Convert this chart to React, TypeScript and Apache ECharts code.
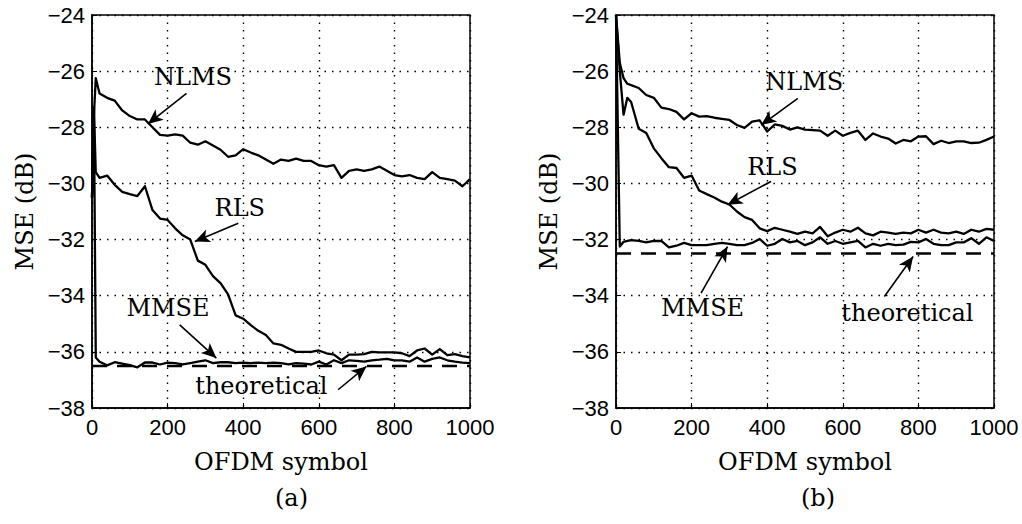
import React, { useEffect, useRef } from "react";
import * as echarts from "echarts";

// ---------- panel (a) ----------
const X_A = [0, 5, 10, 20, 40, 60, 80, 100, 120, 140, 160, 180, 200, 220, 240, 260, 280, 300, 320, 340, 360, 380, 400, 420, 440, 460, 480, 500, 520, 540, 560, 580, 600, 620, 640, 660, 680, 700, 720, 740, 760, 780, 800, 820, 840, 860, 880, 900, 920, 940, 960, 980, 1000];
const NLMS_A = [-30.5, -27.6, -26.25, -26.8, -26.95, -27.05, -27.4, -27.6, -27.72, -27.72, -28.0, -28.27, -28.3, -28.25, -28.3, -28.55, -28.62, -28.5, -28.65, -28.8, -29.05, -29.0, -28.78, -28.9, -29.0, -29.15, -29.3, -29.15, -29.2, -29.12, -29.2, -29.2, -29.35, -29.4, -29.35, -29.8, -29.55, -29.5, -29.55, -29.5, -29.4, -29.55, -29.7, -29.75, -29.7, -29.8, -29.85, -29.6, -29.8, -29.85, -29.9, -30.1, -29.85];
const RLS_A = [-30.5, -27.3, -29.6, -29.8, -29.72, -30.05, -30.3, -30.38, -30.45, -30.1, -30.95, -31.25, -31.3, -31.6, -31.85, -32.0, -32.75, -32.9, -33.3, -33.55, -33.95, -34.7, -34.82, -35.05, -35.25, -35.4, -35.7, -35.75, -35.88, -36.0, -36.0, -36.0, -35.95, -36.05, -36.1, -36.3, -36.1, -36.1, -36.08, -36.0, -36.02, -36.02, -36.02, -36.05, -36.15, -35.95, -35.88, -36.1, -35.9, -36.12, -36.08, -36.15, -36.2];
const MMSE_A = [-30.5, -27.3, -36.2, -36.35, -36.48, -36.37, -36.42, -36.47, -36.55, -36.38, -36.38, -36.45, -36.38, -36.4, -36.45, -36.4, -36.35, -36.3, -36.4, -36.37, -36.37, -36.4, -36.38, -36.4, -36.38, -36.4, -36.38, -36.4, -36.45, -36.4, -36.42, -36.45, -36.35, -36.45, -36.3, -36.4, -36.3, -36.32, -36.35, -36.3, -36.28, -36.25, -36.3, -36.3, -36.35, -36.2, -36.35, -36.25, -36.2, -36.3, -36.35, -36.38, -36.4];
const THEO_X = [0, 1000];
const THEO_A = [-36.5, -36.5];

// ---------- panel (b) ----------
const X_B = [0, 10, 20, 30, 40, 60, 80, 100, 120, 140, 160, 180, 200, 220, 240, 260, 280, 300, 320, 340, 360, 380, 400, 420, 440, 460, 480, 500, 520, 540, 560, 580, 600, 620, 640, 660, 680, 700, 720, 740, 760, 780, 800, 820, 840, 860, 880, 900, 920, 940, 960, 980, 1000];
const NLMS_B = [-24.0, -25.7, -26.25, -26.45, -26.5, -26.6, -26.85, -26.95, -27.3, -27.35, -27.45, -27.72, -27.5, -27.62, -27.6, -27.66, -27.7, -27.74, -27.92, -28.02, -27.8, -27.75, -28.15, -27.9, -27.95, -28.08, -28.0, -28.08, -28.1, -28.12, -28.3, -28.12, -28.3, -28.2, -28.12, -28.45, -28.22, -28.33, -28.4, -28.58, -28.45, -28.5, -28.33, -28.32, -28.6, -28.48, -28.56, -28.5, -28.5, -28.56, -28.55, -28.45, -28.33];
const RLS_B = [-24.0, -26.0, -27.55, -26.95, -27.1, -28.05, -28.2, -28.75, -29.1, -29.42, -29.45, -29.8, -29.72, -30.25, -30.38, -30.5, -30.65, -30.75, -31.0, -31.2, -31.3, -31.6, -31.7, -31.58, -31.65, -31.72, -31.8, -31.72, -31.78, -31.55, -31.88, -31.75, -31.65, -31.72, -31.58, -31.78, -31.85, -31.72, -31.75, -31.8, -31.75, -31.78, -31.65, -31.75, -31.65, -31.75, -31.78, -31.72, -31.8, -31.65, -31.72, -31.62, -31.65];
const MMSE_B = [-24.0, -32.25, -32.08, -32.05, -32.02, -32.05, -32.1, -32.05, -32.05, -32.28, -32.22, -32.12, -32.2, -32.2, -32.2, -32.15, -32.12, -32.15, -32.2, -32.2, -32.12, -31.98, -32.22, -32.15, -31.98, -32.1, -32.05, -32.2, -32.1, -31.92, -32.15, -32.05, -32.15, -32.1, -32.05, -32.28, -32.15, -32.22, -32.15, -32.2, -32.18, -32.08, -32.1, -31.98, -32.15, -32.2, -32.2, -32.1, -32.1, -31.95, -32.15, -31.92, -32.05];
const THEO_B = [-32.5, -32.5];

// ---------- annotations ----------
const ANN_TEXT = ["NLMS", "RLS", "MMSE", "theoretical"];
const ANN_A_POS = [[267, -26.2], [391, -30.88], [201, -34.44], [448, -37.23]];
const ARROW_A = [
  [[250, -26.79], [148, -27.88]],
  [[387, -31.42], [272, -32.07]],
  [[232, -35.04], [329, -36.22]],
  [[651, -37.35], [726, -36.52]],
];
const ANN_B_POS = [[498, -26.37], [414, -29.4], [229, -34.44], [771, -34.62]];
const ARROW_B = [
  [[481, -26.97], [384, -27.92]],
  [[410, -29.93], [295, -30.76]],
  [[225, -33.91], [295, -32.25]],
  [[710, -34.03], [786, -32.6]],
];

const X_MIN = 0, X_MAX = 1000, X_STEP = 200;
const Y_MIN = -38, Y_MAX = -24, Y_STEP = 2;
const PANEL_TAGS = ["(a)", "(b)"];

const SERIF = "DejaVu Serif";
const SANS = "Liberation Sans";

const zip = (xs: number[], ys: number[]) => xs.map((x, i) => [x, ys[i]]);

export default function App() {
  const ref = useRef<HTMLDivElement>(null);
  useEffect(() => {
    if (!ref.current) return;
    const chart = echarts.init(ref.current, undefined, { renderer: "svg" });

    const grids = [
      { left: 92, top: 15, width: 378, height: 393 },
      { left: 616, top: 15, width: 378, height: 393 },
    ];

    const xAxis = grids.map((_, i) => ({
      type: "value",
      gridIndex: i,
      min: X_MIN,
      max: X_MAX,
      interval: X_STEP,
      name: "OFDM symbol",
      nameLocation: "middle",
      nameGap: 42,
      nameTextStyle: { fontFamily: SERIF, fontSize: 24, color: "#000" },
      axisLine: { show: true, lineStyle: { color: "#000", width: 1.5 } },
      axisTick: { show: true, inside: true, length: 5, lineStyle: { color: "#000" } },
      axisLabel: {
        margin: 8,
        fontFamily: SANS,
        fontSize: 22,
        color: "#000",
        formatter: (v: number) => String(v),
      },
      splitLine: { show: true, lineStyle: { color: "#000", width: 1.4, type: [1.5, 6] } },
    }));

    const yAxis = grids.map((_, i) => ({
      type: "value",
      gridIndex: i,
      min: Y_MIN,
      max: Y_MAX,
      interval: Y_STEP,
      name: "MSE (dB)",
      nameLocation: "middle",
      nameGap: 55,
      nameTextStyle: { fontFamily: SERIF, fontSize: 24, color: "#000" },
      axisLine: { show: true, lineStyle: { color: "#000", width: 1.5 } },
      axisTick: { show: true, inside: true, length: 5, lineStyle: { color: "#000" } },
      axisLabel: {
        margin: 7,
        fontFamily: SANS,
        fontSize: 22,
        color: "#000",
        formatter: (v: number) => String(v).replace("-", "\u2212"),
      },
      splitLine: { show: true, lineStyle: { color: "#000", width: 1.4, type: [1.5, 6] } },
    }));

    const curve = (name: string, idx: number, xs: number[], ys: number[]) => ({
      name,
      type: "line",
      xAxisIndex: idx,
      yAxisIndex: idx,
      data: zip(xs, ys),
      showSymbol: false,
      symbol: "none",
      silent: true,
      lineStyle: { color: "#000", width: 2.3, join: "round" },
      z: 3,
    });

    const theo = (idx: number, ys: number[]) => ({
      name: "theoretical",
      type: "line",
      xAxisIndex: idx,
      yAxisIndex: idx,
      data: zip(THEO_X, ys),
      showSymbol: false,
      symbol: "none",
      silent: true,
      lineStyle: { color: "#000", width: 2.5, type: [15, 10] },
      z: 2,
    });

    const annotations = (idx: number, pos: number[][], arrows: number[][][]) => ({
      type: "scatter",
      xAxisIndex: idx,
      yAxisIndex: idx,
      silent: true,
      symbol: "circle",
      symbolSize: 0.01,
      itemStyle: { color: "#000", opacity: 1 },
      data: pos.map((p, i) => ({ value: p, name: ANN_TEXT[i] })),
      label: {
        show: true,
        position: "inside",
        formatter: "{b}",
        fontFamily: SERIF,
        fontSize: 24,
        color: "#000",
        opacity: 1,
        textBorderWidth: 0,
      },
      markLine: {
        silent: true,
        symbol: ["none", "arrow"],
        symbolSize: [10, 15],
        label: { show: false },
        lineStyle: { color: "#000", width: 1.6, type: "solid" },
        data: arrows.map(([a, b]) => [{ coord: a }, { coord: b }]),
      },
      z: 4,
    });

    chart.setOption({
      animation: false,
      backgroundColor: "#fff",
      grid: grids.map((g) => ({ ...g, show: true, borderColor: "#000", borderWidth: 1.5, backgroundColor: "transparent" })),
      xAxis,
      yAxis,
      graphic: PANEL_TAGS.map((t, i) => ({
        type: "text",
        left: grids[i].left + grids[i].width / 2 - 12 + (i === 0 ? 6 : 8),
        top: 486,
        style: { text: t, font: `24px "${SERIF}"`, fill: "#000" },
      })),
      series: [
        curve("NLMS", 0, X_A, NLMS_A),
        curve("RLS", 0, X_A, RLS_A),
        curve("MMSE", 0, X_A, MMSE_A),
        theo(0, THEO_A),
        annotations(0, ANN_A_POS, ARROW_A),
        curve("NLMS", 1, X_B, NLMS_B),
        curve("RLS", 1, X_B, RLS_B),
        curve("MMSE", 1, X_B, MMSE_B),
        theo(1, THEO_B),
        annotations(1, ANN_B_POS, ARROW_B),
      ],
    });
    return () => chart.dispose();
  }, []);

  return (
    <div
      ref={ref}
      style={{ position: "fixed", left: 0, top: 0, width: 1022, height: 524, background: "#fff" }}
    />
  );
}
